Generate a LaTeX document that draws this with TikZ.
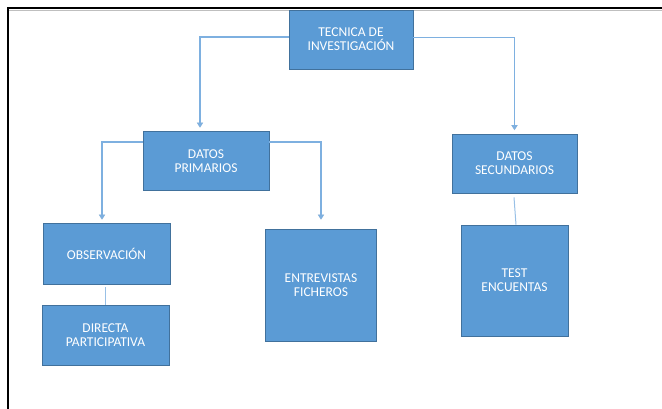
\documentclass[tikz,border=0pt]{standalone}
\usepackage{fontspec}
\setmainfont{Carlito}
\usetikzlibrary{arrows.meta}
\definecolor{boxfill}{HTML}{5B9BD5}
\definecolor{boxline}{HTML}{41719C}
\definecolor{linkblue}{HTML}{7EB0E0}
\tikzset{
  box/.style={draw=boxline, fill=boxfill, line width=0.7pt, inner sep=0pt,
    text=white, align=center, font=\fontsize{13.5}{14}\selectfont},
  tip/.style={-{Triangle[length=5pt,width=6pt]}},
  shade line/.style={draw=black!30, line width=1.3pt, opacity=0.5, tip},
  conn/.style={draw=linkblue, line width=1.3pt, tip},
  plain link/.style={draw=linkblue!80, line width=1pt},
}
\begin{document}
\begin{tikzpicture}[x=1pt, y=-1pt]
\useasboundingbox (0,0) rectangle (662,409);
% page frame
\draw[black!25, line width=1pt] (9,10.2) -- (662,10.2);
\draw[line width=2pt] (8,409) -- (8,8) -- (662,8);

% boxes
\node[box, minimum width=124pt, minimum height=59pt] (tec) at (351,39.5) {TECNICA DE\\INVESTIGACIÓN};
\node[box, minimum width=126pt, minimum height=59pt] (dp) at (206,161) {DATOS\\PRIMARIOS};
\node[box, minimum width=125pt, minimum height=59pt] (ds) at (514.5,163.5) {DATOS\\SECUNDARIOS};
\node[box, minimum width=127pt, minimum height=61pt] (obs) at (106.5,253.5) {OBSERVACIÓN};
\node[box, minimum width=111pt, minimum height=112pt] (ent) at (321,285) {ENTREVISTAS\\FICHEROS};
\node[box, minimum width=107pt, minimum height=111pt] (test) at (514.5,280.5) {TEST\\ENCUENTAS};
\node[box, minimum width=127pt, minimum height=60pt] (dir) at (105.5,335) {DIRECTA\\PARTICIPATIVA};

% elbow connectors: soft shadow first, then the blue line on top
\begin{scope}[shift={(1.2,1.2)}]
  \draw[shade line] ([yshift=2.5pt]tec.west) -| ([xshift=-6pt,yshift=3.5pt]dp.north);
  \draw[shade line] ([yshift=2pt]tec.east) -| ([yshift=3.5pt]ds.north);
  \draw[shade line] ([yshift=19pt]dp.west) -| ([xshift=-4.5pt,yshift=3pt]obs.north);
  \draw[shade line] ([yshift=19pt]dp.east) -| ([yshift=9pt]ent.north);
\end{scope}
\draw[conn] ([yshift=2.5pt]tec.west) -| ([xshift=-6pt,yshift=3.5pt]dp.north);
\draw[conn] ([yshift=2pt]tec.east) -| ([yshift=3.5pt]ds.north);
\draw[conn] ([yshift=19pt]dp.west) -| ([xshift=-4.5pt,yshift=3pt]obs.north);
\draw[conn] ([yshift=19pt]dp.east) -| ([yshift=9pt]ent.north);

% plain links
\draw[plain link] ([xshift=-1pt,yshift=-3pt]obs.south) -- (dir.north);
\draw[plain link] ([xshift=-0.5pt,yshift=-4pt]ds.south) -- ([xshift=1.5pt]test.north);
\end{tikzpicture}
\end{document}
